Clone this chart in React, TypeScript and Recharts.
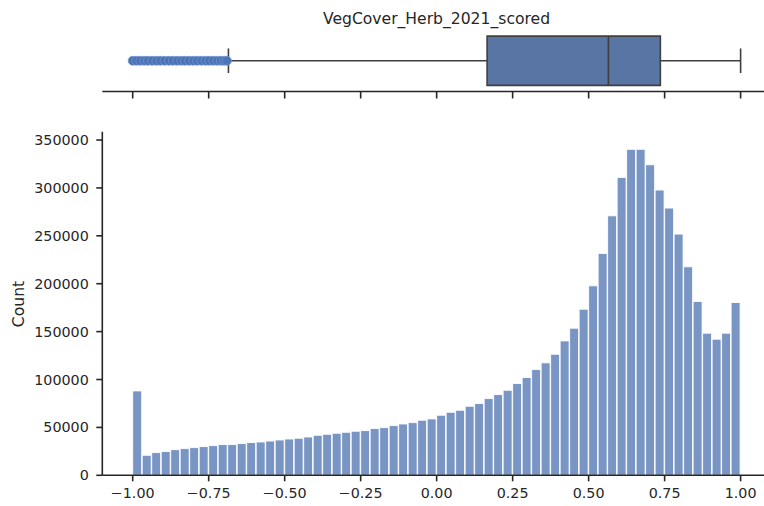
import React from "react";
import {
  ComposedChart,
  Bar,
  Scatter,
  XAxis,
  YAxis,
  ReferenceArea,
  ReferenceLine,
} from "recharts";

// histogram: 64 equal bins between -1 and 1
const binStart = -1;
const binEnd = 1;
const counts = [
  88100, 20900, 23700, 24800, 26800, 27900, 28900, 30000, 31000, 32100, 32100,
  33100, 34200, 34800, 35800, 36900, 37900, 38700, 40000, 41800, 42800, 43900,
  44900, 46000, 46700, 48800, 49800, 51900, 53600, 55000, 57500, 58900, 62700,
  65800, 67900, 72100, 74900, 80100, 84300, 88800, 95800, 102100, 110400,
  117400, 126400, 140300, 153600, 173400, 197800, 231600, 270900, 311000,
  340300, 340300, 324200, 297800, 279000, 251800, 217700, 181500, 148400,
  142100, 148400, 180400,
];

// box plot summary
const q1 = 0.166;
const median = 0.565;
const q3 = 0.736;
const whiskerLow = -0.685;
const whiskerHigh = 1.0;
const outliers = [
  -1.0, -0.988, -0.975, -0.962, -0.95, -0.936, -0.922, -0.909, -0.895, -0.881,
  -0.868, -0.854, -0.84, -0.828, -0.815, -0.801, -0.788, -0.774, -0.76, -0.748,
  -0.735, -0.722, -0.71, -0.699, -0.69,
];

const xTicks = [-1, -0.75, -0.5, -0.25, 0, 0.25, 0.5, 0.75, 1];
const yTicks = [0, 50000, 100000, 150000, 200000, 250000, 300000, 350000];

const title = "VegCover_Herb_2021_scored";
const yLabel = "Count";

const binWidth = (binEnd - binStart) / counts.length;
const histData = counts.map((c, i) => ({ x: binStart + (i + 0.5) * binWidth, count: c }));
const outlierData = outliers.map((v) => ({ x: v, y: 0 }));

const ink = "#262626";
const font = "DejaVu Sans";
const tickStyle = { fill: ink, fontSize: 14.3, fontFamily: font };
const fmtX = (v: number) => (v < 0 ? "\u2212" : "") + Math.abs(v).toFixed(2);

export default function App() {
  return (
    <div
      style={{
        position: "absolute",
        left: 0,
        top: 0,
        width: 764,
        height: 506,
        overflow: "hidden",
        background: "#fff",
      }}
    >
      <div
        style={{
          position: "absolute",
          left: 102,
          width: 669,
          top: 9.6,
          textAlign: "center",
          fontFamily: font,
          fontSize: 15.6,
          lineHeight: "18px",
          color: ink,
        }}
      >
        {title}
      </div>

      {/* box plot panel */}
      <div style={{ position: "absolute", left: 0, top: 0 }}>
        <ComposedChart
          width={781}
          height={110}
          data={outlierData}
          margin={{ top: 30, right: 10, bottom: 0, left: 102.3 }}
        >
          <XAxis
            type="number"
            dataKey="x"
            domain={[-1.1, 1.1]}
            ticks={xTicks}
            tickFormatter={() => ""}
            height={18.5}
            tickSize={7}
            axisLine={{ stroke: ink, strokeWidth: 1.6 }}
            tickLine={{ stroke: ink, strokeWidth: 1.6 }}
          />
          <YAxis type="number" dataKey="y" domain={[-0.5, 0.5]} hide />
          <ReferenceLine
            segment={[{ x: whiskerLow, y: 0 }, { x: q1, y: 0 }]}
            stroke="#3f3f3f"
            strokeWidth={1.6}
          />
          <ReferenceLine
            segment={[{ x: q3, y: 0 }, { x: whiskerHigh, y: 0 }]}
            stroke="#3f3f3f"
            strokeWidth={1.6}
          />
          <Scatter
            data={outlierData}
            fill="#4a73b8"
            stroke="#7898cf"
            strokeWidth={0.7}
            isAnimationActive={false}
          />
          <ReferenceLine
            segment={[{ x: whiskerLow, y: -0.2 }, { x: whiskerLow, y: 0.2 }]}
            stroke="#3f3f3f"
            strokeWidth={1.6}
          />
          <ReferenceLine
            segment={[{ x: whiskerHigh, y: -0.2 }, { x: whiskerHigh, y: 0.2 }]}
            stroke="#3f3f3f"
            strokeWidth={1.6}
          />
          <ReferenceArea
            x1={q1}
            x2={q3}
            y1={-0.4}
            y2={0.4}
            fill="#5875a4"
            fillOpacity={1}
            stroke="#3f3f3f"
            strokeWidth={1.6}
          />
          <ReferenceLine
            segment={[{ x: median, y: -0.4 }, { x: median, y: 0.4 }]}
            stroke="#3f3f3f"
            strokeWidth={1.6}
          />
        </ComposedChart>
      </div>

      {/* histogram panel */}
      <div style={{ position: "absolute", left: 0, top: 120 }}>
        <ComposedChart
          width={781}
          height={386}
          data={histData}
          barCategoryGap={0}
          barGap={0}
          margin={{ top: 11.7, right: 10, bottom: 0, left: 0 }}
        >
          <XAxis
            type="number"
            dataKey="x"
            domain={[-1.1, 1.1]}
            ticks={xTicks}
            tickFormatter={fmtX}
            height={30.7}
            tickSize={6}
            tickMargin={7}
            tick={tickStyle}
            axisLine={{ stroke: ink, strokeWidth: 1.6 }}
            tickLine={{ stroke: ink, strokeWidth: 1.6 }}
          />
          <YAxis
            type="number"
            domain={[0, 358700]}
            ticks={yTicks}
            width={102.3}
            tickSize={6}
            tickMargin={7.5}
            tick={tickStyle}
            axisLine={{ stroke: ink, strokeWidth: 1.6 }}
            tickLine={{ stroke: ink, strokeWidth: 1.6 }}
            allowDataOverflow
          />
          <Bar
            dataKey="count"
            fill="#7995c4"
            stroke="#ffffff"
            strokeWidth={0.9}
            isAnimationActive={false}
          />
        </ComposedChart>
      </div>

      <div
        style={{
          position: "absolute",
          left: 19,
          top: 303.5,
          transform: "translate(-50%, -50%) rotate(-90deg)",
          fontFamily: font,
          fontSize: 15.6,
          lineHeight: "18px",
          color: ink,
          whiteSpace: "nowrap",
        }}
      >
        {yLabel}
      </div>
    </div>
  );
}
